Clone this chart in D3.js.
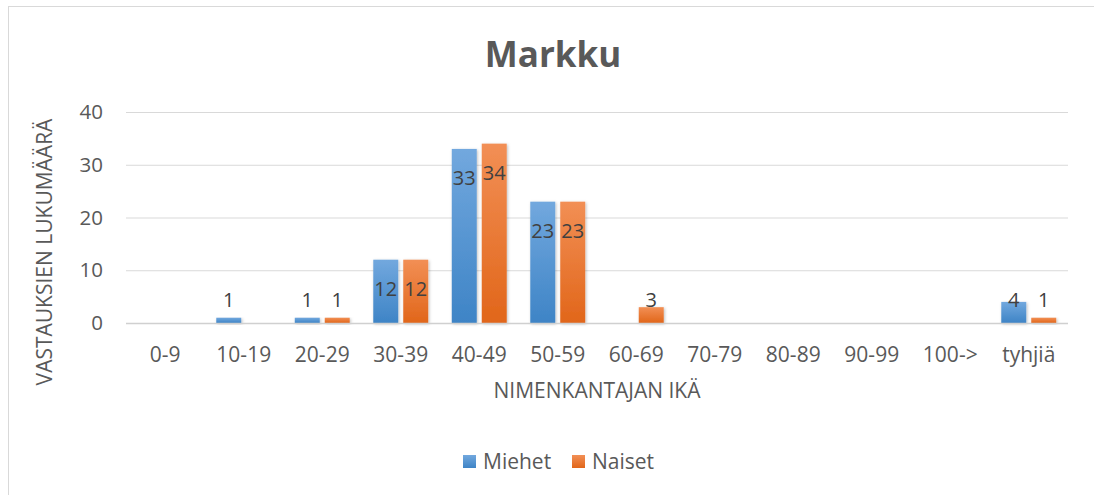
<!DOCTYPE html>
<html>
<head>
<meta charset="utf-8">
<script src="https://cdn.jsdelivr.net/npm/d3@7"></script>
<style>
  body { margin: 0; background: #fff; }
  text { font-family: "Open Sans", sans-serif; }
</style>
</head>
<body>
<svg id="chart"></svg>
<script>
// data
const categories = ["0-9", "10-19", "20-29", "30-39", "40-49", "50-59", "60-69", "70-79", "80-89", "90-99", "100->", "tyhjiä"];
const seriesNames = ["Miehet", "Naiset"];
const miehet = [0, 1, 1, 12, 33, 23, 0, 0, 0, 0, 0, 4];
const naiset = [0, 0, 1, 12, 34, 23, 3, 0, 0, 0, 0, 1];
const yTicks = [0, 10, 20, 30, 40];

const width = 1094, height = 495;
const plot = { left: 126, right: 1068, top: 112, bottom: 323 };
const textColor = "#595959";

const svg = d3.select("svg#chart")
    .attr("width", width)
    .attr("height", height);

// chart frame (only left/top edges visible in the picture)
svg.append("rect")
    .attr("x", 8.5).attr("y", 6.5)
    .attr("width", width + 20).attr("height", height + 20)
    .attr("fill", "#fff")
    .attr("stroke", "#d9d9d9");

// gradients for the bars
const defs = svg.append("defs");
const grads = [
    { id: "gBlue", top: "#72a8de", bottom: "#3e84c6" },
    { id: "gOrange", top: "#f28f55", bottom: "#e1661a" }
];
grads.forEach(g => {
    const lg = defs.append("linearGradient")
        .attr("id", g.id)
        .attr("x1", 0).attr("y1", 0).attr("x2", 0).attr("y2", 1);
    lg.append("stop").attr("offset", "0%").attr("stop-color", g.top);
    lg.append("stop").attr("offset", "100%").attr("stop-color", g.bottom);
});
const shadow = defs.append("filter").attr("id", "shadow")
    .attr("x", "-30%").attr("y", "-10%").attr("width", "160%").attr("height", "130%");
shadow.append("feDropShadow")
    .attr("dx", 1).attr("dy", 1).attr("stdDeviation", 1.5)
    .attr("flood-color", "#000").attr("flood-opacity", 0.25);

const x0 = d3.scaleBand()
    .domain(categories)
    .range([plot.left, plot.right])
    .paddingInner(0.3)
    .paddingOuter(0.15);

const x1 = d3.scaleBand()
    .domain(seriesNames)
    .range([0, x0.bandwidth()])
    .paddingInner(0.167);

const y = d3.scaleLinear()
    .domain([0, 40])
    .range([plot.bottom, plot.top]);

// gridlines
svg.append("g")
    .selectAll("line")
    .data(yTicks.filter(t => t > 0))
    .join("line")
    .attr("x1", plot.left).attr("x2", plot.right)
    .attr("y1", d => y(d) + 0.5).attr("y2", d => y(d) + 0.5)
    .attr("stroke", "#d9d9d9")
    .attr("stroke-width", 1);

// y axis labels
const yAxis = svg.append("g")
    .attr("transform", `translate(${plot.left - 23},0)`)
    .call(d3.axisLeft(y).tickValues(yTicks).tickSize(0).tickPadding(0));
yAxis.select(".domain").remove();
yAxis.selectAll("text")
    .attr("fill", textColor)
    .attr("font-size", 20.5);

// bars
const table = categories.map((c, i) => ({ cat: c, values: [miehet[i], naiset[i]] }));
const fills = ["url(#gBlue)", "url(#gOrange)"];

const groups = svg.append("g")
    .selectAll("g")
    .data(table)
    .join("g")
    .attr("transform", d => `translate(${x0(d.cat)},0)`);

groups.selectAll("rect")
    .data(d => d.values.map((v, i) => ({ name: seriesNames[i], v, i })).filter(e => e.v > 0))
    .join("rect")
    .attr("x", d => x1(d.name))
    .attr("y", d => y(d.v))
    .attr("width", x1.bandwidth())
    .attr("height", d => y(0) - y(d.v))
    .attr("fill", d => fills[d.i])
    .attr("filter", "url(#shadow)");

// x axis line
svg.append("line")
    .attr("x1", plot.left).attr("x2", plot.right)
    .attr("y1", y(0) + 0.5).attr("y2", y(0) + 0.5)
    .attr("stroke", "#d0d0d0")
    .attr("stroke-width", 1.5);

// value labels
groups.selectAll("text.val")
    .data(d => d.values.map((v, i) => ({ name: seriesNames[i], v })).filter(e => e.v > 0))
    .join("text")
    .attr("class", "val")
    .attr("x", d => x1(d.name) + x1.bandwidth() / 2)
    .attr("y", d => Math.min(y(d.v) + 29, y(0) - 23.5))
    .attr("dy", "0.35em")
    .attr("text-anchor", "middle")
    .attr("font-size", 20)
    .attr("fill", "#404040")
    .text(d => d.v);

// category labels
const xAxis = svg.append("g")
    .attr("transform", `translate(0,${plot.bottom})`)
    .call(d3.axisBottom(x0).tickSize(0).tickPadding(0));
xAxis.select(".domain").remove();
xAxis.selectAll("text")
    .attr("y", 31.5)
    .attr("dy", "0.35em")
    .attr("fill", textColor)
    .attr("font-size", 21);

// title
svg.append("text")
    .attr("x", 553).attr("y", 67)
    .attr("text-anchor", "middle")
    .attr("font-size", 35)
    .attr("font-weight", "bold")
    .attr("fill", textColor)
    .text("Markku");

// axis titles
svg.append("text")
    .attr("x", (plot.left + plot.right) / 2).attr("y", 391)
    .attr("dy", "0.35em")
    .attr("text-anchor", "middle")
    .attr("font-size", 21)
    .attr("fill", textColor)
    .text("NIMENKANTAJAN IKÄ");

svg.append("text")
    .attr("transform", "translate(45,252) rotate(-90)")
    .attr("dy", "0.35em")
    .attr("text-anchor", "middle")
    .attr("font-size", 21)
    .attr("fill", textColor)
    .text("VASTAUKSIEN LUKUMÄÄRÄ");

// legend
const legend = svg.append("g").attr("transform", "translate(463,462)");
const legendItems = [
    { name: "Miehet", fill: "url(#gBlue)", dx: 0 },
    { name: "Naiset", fill: "url(#gOrange)", dx: 109 }
];
const li = legend.selectAll("g")
    .data(legendItems)
    .join("g")
    .attr("transform", d => `translate(${d.dx},0)`);
li.append("rect")
    .attr("x", 0).attr("y", -7)
    .attr("width", 13).attr("height", 13)
    .attr("fill", d => d.fill);
li.append("text")
    .attr("x", 20).attr("y", 0)
    .attr("dy", "0.35em")
    .attr("font-size", 21)
    .attr("fill", textColor)
    .text(d => d.name);
</script>
</body>
</html>
